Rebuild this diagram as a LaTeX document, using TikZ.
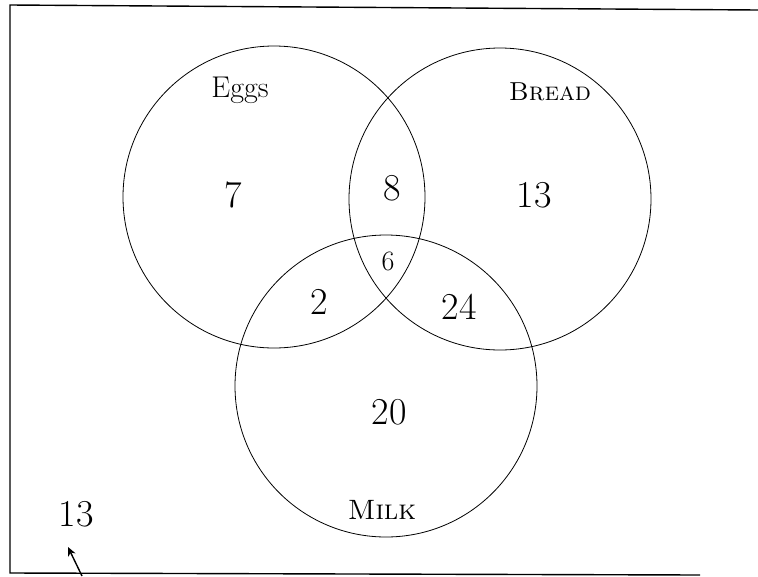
\documentclass[tikz,border=0pt]{standalone}
\usepackage{tikz}
\usetikzlibrary{positioning,calc,arrows.meta}

\begin{document}
\begin{tikzpicture}[x=1pt, y=-1pt,
    set/.style={draw=black, line width=0.8pt},
    num/.style={font=\fontsize{38}{42}\selectfont},
    setname/.style={font=\fontsize{30}{34}\selectfont}]
  \useasboundingbox (0,0) rectangle (758,576);

  % Frame (left, top, bottom)
  \draw[line width=1.4pt] (758,10) -- (10,5) -- (10,573) -- (700,575);

  % Sets
  \draw[set] (274,197) circle (151);   % Eggs
  \draw[set] (500,199) circle (151);   % Bread
  \draw[set] (386,386) circle (151);   % Milk

  % Set names
  \node[setname] (eggs_lbl)  at (240,90)  {Eggs};
  \node[setname, font=\fontsize{26}{30}\selectfont] (bread_lbl) at (550,92)  {\textsc{Bread}};
  \node[setname, font=\fontsize{28}{32}\selectfont] (milk_lbl)  at (382,510) {\textsc{Milk}};

  % Region counts
  \node[num] (only_eggs)  at (233,195) {7};
  \node[num] (only_bread) at (534,195) {13};
  \node[num] (eggs_bread) at (392,188) {8};
  \node[num, font=\fontsize{28}{32}\selectfont] (all_three) at (388,261) {6};
  \node[num] (eggs_milk)  at (319,302) {2};
  \node[num] (bread_milk) at (459,307) {24};
  \node[num] (only_milk)  at (389,412) {20};

  % None of the three
  \node[num] (outside) at (76,514) {13};
  \coordinate (arrow_tail) at (82,576);
  \coordinate (arrow_tip) at (68,547);
  \draw[line width=1.4pt, -{Stealth[length=9pt, width=8pt]}] (arrow_tail) -- (arrow_tip);
\end{tikzpicture}
\end{document}
